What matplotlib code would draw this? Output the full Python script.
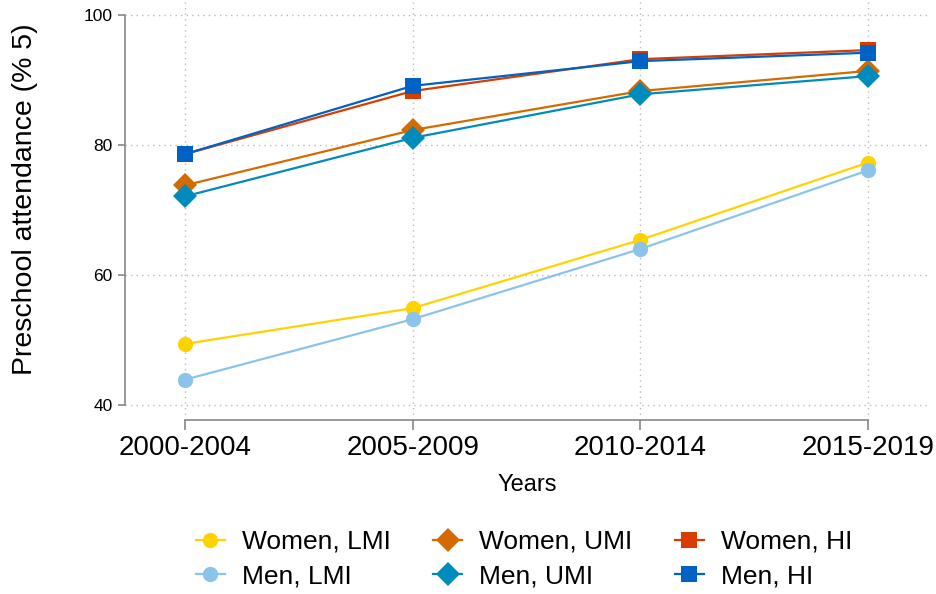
import matplotlib.pyplot as plt
import numpy as np

plt.rcParams['font.family'] = ['Liberation Sans', 'DejaVu Sans']

# Data
periods = ['2000-2004', '2005-2009', '2010-2014', '2015-2019']
women_lmi = [49.4, 54.9, 65.4, 77.3]
men_lmi = [43.9, 53.2, 64.0, 76.1]
women_umi = [73.8, 82.3, 88.3, 91.4]
men_umi = [72.1, 81.1, 87.8, 90.6]
women_hi = [78.6, 88.3, 93.2, 94.6]
men_hi = [78.6, 89.1, 92.9, 94.2]

x = np.arange(len(periods))

fig = plt.figure(figsize=(9.36, 5.94), dpi=100)
ax = fig.add_axes([125 / 936, 1 - 420 / 594, 805 / 936, 420 / 594])

series = [
    (women_lmi, 'Women, LMI', '#ffd200', 'o', 11),
    (men_lmi, 'Men, LMI', '#8bc3eb', 'o', 11),
    (women_umi, 'Women, UMI', '#d56a00', 'D', 12),
    (men_umi, 'Men, UMI', '#008bbd', 'D', 12),
    (women_hi, 'Women, HI', '#d83c00', 's', 11),
    (men_hi, 'Men, HI', '#0062c4', 's', 11),
]
for vals, label, col, mk, ms in series:
    ax.plot(x, vals, color=col, marker=mk, markersize=ms, markeredgewidth=0,
            linewidth=1.6, label=label)

ax.set_xlim(-60 / 227.67, 3 + 62 / 227.67)
ax.set_ylim(100 - 405 / 6.5, 100 + 15 / 6.5)
ax.set_yticks([40, 60, 80, 100])
ax.set_xticks(x)
ax.set_xticklabels(periods, fontsize=20)
ax.tick_params(axis='y', labelsize=12.5, length=5, color='#888888', width=1.2, pad=4)
ax.tick_params(axis='x', length=7, color='#888888', width=1.2, pad=4)

ax.grid(True, linestyle=(0, (1, 3)), color='#bbbbbb', linewidth=1)
ax.set_axisbelow(True)

for s in ['top', 'right']:
    ax.spines[s].set_visible(False)
ax.spines['left'].set_bounds(40, 100)
ax.spines['bottom'].set_bounds(0, 3)
for s in ['left', 'bottom']:
    ax.spines[s].set_color('#888888')
    ax.spines[s].set_linewidth(1.2)

ax.set_ylabel('Preschool attendance (% 5)', fontsize=20.5)
ax.yaxis.set_label_coords(-87 / 805, (420 - 199) / 420)
ax.set_xlabel('Years', fontsize=17, labelpad=9)

handles, labels = ax.get_legend_handles_labels()
fig.legend(handles, labels, ncol=3, loc='center', bbox_to_anchor=(524 / 936, 1 - 559 / 594),
           frameon=False, fontsize=19, handlelength=1.1, handletextpad=0.65,
           columnspacing=1.6, labelspacing=0.38)

fig.savefig('out.png', dpi=100)
